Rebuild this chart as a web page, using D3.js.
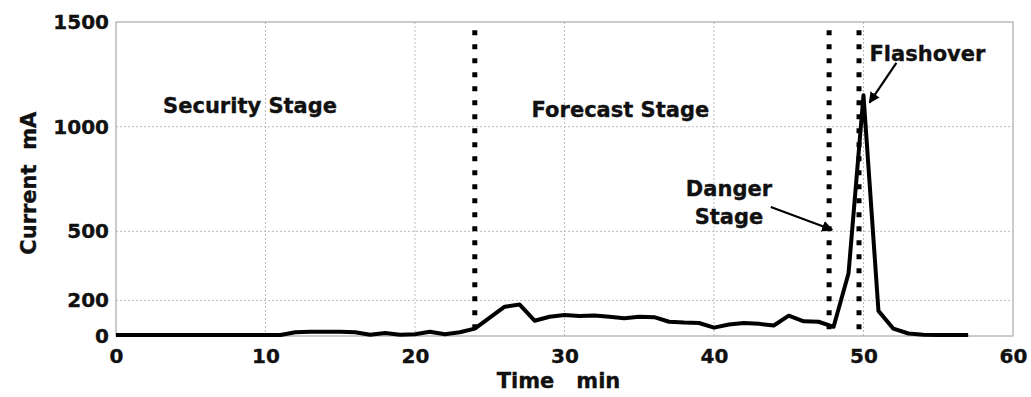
<!DOCTYPE html>
<html>
<head>
<meta charset="utf-8">
<script src="https://cdn.jsdelivr.net/npm/d3@7"></script>
<style>
  body { margin: 0; background: #fff; }
  text { font-family: "DejaVu Sans", sans-serif; font-weight: bold; fill: #111; stroke: #111; stroke-width: 0.35px; }
</style>
</head>
<body>
<svg id="chart" width="1031" height="397"></svg>
<script>
// minutes 0..57
var timeMin = d3.range(0, 58);
var currentMA = [
  5, 5, 5, 5, 5, 5, 5, 5, 5, 5,
  5, 5, 18, 20, 20, 20, 18, 6, 14, 6,
  8, 20, 8, 18, 35, 88, 140, 150, 73, 92,
  100, 95, 98, 92, 85, 92, 90, 68, 64, 62,
  40, 55, 62, 58, 50, 97, 70, 68, 44, 300,
  1150, 120, 35, 12, 6, 5, 5, 5
];
var xTicks = [0, 10, 20, 30, 40, 50, 60];
var yTicks = [0, 170, 500, 1000, 1500];
var yTickLabels = ['0', '200', '500', '1000', '1500'];
var stageLines = [24, 47.7, 49.7];

var svg = d3.select('#chart');
var margin = { top: 22, right: 18, bottom: 61, left: 116 },
  width = 1031 - margin.left - margin.right,
  height = 397 - margin.top - margin.bottom;

var g = svg.append('g').attr('transform', `translate(${margin.left},${margin.top})`);

var x = d3.scaleLinear().domain([0, 60]).range([0, width]);
var y = d3.scaleLinear().domain([0, 1500]).range([height, 0]);

// grid
g.append('g').selectAll('line').data(xTicks.slice(1, -1)).enter().append('line')
  .attr('x1', d => x(d)).attr('x2', d => x(d))
  .attr('y1', 0).attr('y2', height)
  .attr('stroke', '#bbb').attr('stroke-width', 1).attr('stroke-dasharray', '2,2');
g.append('g').selectAll('line').data(yTicks.slice(1, -1)).enter().append('line')
  .attr('x1', 0).attr('x2', width)
  .attr('y1', d => y(d)).attr('y2', d => y(d))
  .attr('stroke', '#bbb').attr('stroke-width', 1).attr('stroke-dasharray', '2,2');

// box
g.append('rect').attr('width', width).attr('height', height)
  .attr('fill', 'none').attr('stroke', '#aaa').attr('stroke-width', 1.2);

// axes
var xAxis = g.append('g').attr('transform', `translate(0,${height})`)
  .call(d3.axisBottom(x).tickValues(xTicks).tickSize(0).tickPadding(13).tickFormat(d3.format('d')));
var yAxis = g.append('g')
  .call(d3.axisLeft(y).tickValues(yTicks).tickSize(0).tickPadding(7).tickFormat((d, i) => yTickLabels[i]));
[xAxis, yAxis].forEach(a => {
  a.select('.domain').remove();
  a.selectAll('text').style('font-family', '"DejaVu Sans", sans-serif')
    .style('font-weight', 'bold').style('font-size', '20px').attr('fill', '#111');
});

// stage separators
g.append('g').selectAll('line').data(stageLines).enter().append('line')
  .attr('x1', d => x(d)).attr('x2', d => x(d))
  .attr('y1', y(1460)).attr('y2', height + 2)
  .attr('stroke', '#000').attr('stroke-width', 5).attr('stroke-dasharray', '5,9');

// current line
var line = d3.line().x((d, i) => x(timeMin[i])).y(d => y(d));
g.append('path').datum(currentMA)
  .attr('d', line)
  .attr('fill', 'none').attr('stroke', '#000').attr('stroke-width', 4)
  .attr('stroke-linejoin', 'round');

// annotations
function label(t, v, s, anchor) {
  g.append('text').attr('x', x(t)).attr('y', y(v))
    .attr('text-anchor', anchor || 'start').style('font-size', '21px').text(s);
}
label(3.15, 1065, 'Security Stage');
label(27.8, 1046, 'Forecast Stage');
label(50.4, 1314, 'Flashover');
label(41.0, 669, 'Danger', 'middle');
label(41.0, 536, 'Stage', 'middle');

svg.append('defs').append('marker')
  .attr('id', 'arrow').attr('viewBox', '0 0 10 10')
  .attr('refX', 9).attr('refY', 5)
  .attr('markerWidth', 5).attr('markerHeight', 5)
  .attr('orient', 'auto')
  .append('path').attr('d', 'M0,0 L10,5 L0,10 z').attr('fill', '#000');

function arrow(t1, v1, t2, v2) {
  g.append('line')
    .attr('x1', x(t1)).attr('y1', y(v1)).attr('x2', x(t2)).attr('y2', y(v2))
    .attr('stroke', '#000').attr('stroke-width', 2.2)
    .attr('marker-end', 'url(#arrow)');
}
arrow(43.8, 616, 47.9, 508);
arrow(52.2, 1305, 50.4, 1115);

// axis titles
g.append('text')
  .attr('x', x(29.6)).attr('y', height + 52)
  .attr('text-anchor', 'middle').style('font-size', '21px').style('white-space', 'pre')
  .text('Time   min');
g.append('text')
  .attr('transform', `translate(${-80},${y(730)}) rotate(-90)`)
  .attr('text-anchor', 'middle').style('font-size', '21px').style('white-space', 'pre')
  .text('Current  mA');
</script>
</body>
</html>
